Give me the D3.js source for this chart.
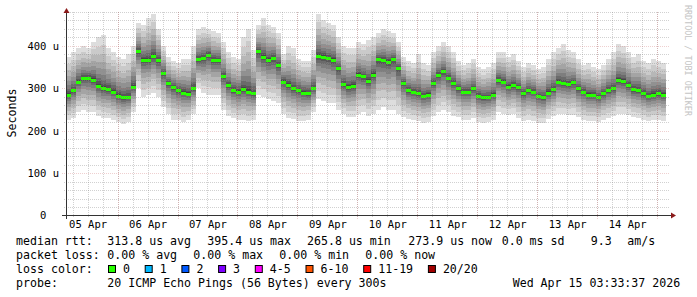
<!DOCTYPE html>
<html>
<head>
<meta charset="utf-8">
<script src="https://cdn.jsdelivr.net/npm/d3@7"></script>
<style>
body { margin: 0; background: #fff; }
text { font-family: "DejaVu Sans Mono", monospace; fill: #000; }
</style>
</head>
<body>
<div id="chart"></div>
<script>
const WIDTH = 697;
const HEIGHT = 297;

// 10 day window, 2 hour steps
const startTime = new Date(Date.UTC(2026, 3, 5, 3, 33, 37));
const endTime = new Date(Date.UTC(2026, 3, 15, 3, 33, 37));
const STEP_HOURS = 2;

// median rtt per step (microseconds)
const median = [
	285, 295, 316, 324, 324, 320, 306, 300, 298, 292, 282, 279, 279, 304, 388, 367, 367, 377, 367, 336,
	312, 303, 296, 290, 287, 300, 369, 371, 379, 367, 367, 328, 308, 296, 292, 298, 292, 288, 388, 375,
	367, 371, 355, 316, 308, 300, 295, 290, 288, 300, 377, 375, 371, 367, 347, 310, 303, 306, 332, 328,
	318, 332, 369, 367, 363, 369, 347, 312, 296, 292, 288, 282, 285, 312, 332, 340, 324, 312, 300, 292,
	292, 300, 282, 279, 279, 285, 320, 316, 304, 308, 303, 288, 296, 292, 282, 279, 290, 298, 316, 312,
	310, 314, 300, 292, 285, 285, 279, 288, 296, 300, 320, 318, 308, 298, 296, 288, 282, 285, 288, 285
];

// slowest ping per step
const pingMax = [
	375, 385, 395, 400, 395, 410, 420, 425, 395, 385, 375, 370, 380, 400, 455, 450, 465, 475, 440, 400,
	375, 365, 360, 370, 370, 400, 440, 445, 440, 435, 430, 410, 385, 375, 370, 420, 440, 390, 450, 465,
	450, 445, 430, 380, 400, 395, 370, 365, 365, 390, 475, 460, 455, 450, 420, 400, 395, 395, 410, 405,
	415, 420, 430, 440, 435, 430, 410, 375, 365, 360, 380, 360, 355, 385, 400, 410, 400, 385, 365, 355,
	360, 370, 350, 345, 350, 360, 385, 385, 375, 380, 365, 350, 360, 355, 345, 350, 370, 385, 395, 405,
	390, 385, 370, 355, 360, 350, 345, 355, 370, 385, 405, 400, 385, 375, 380, 365, 360, 370, 365, 360
];

// fastest ping per step
const pingMin = [
	225, 230, 245, 250, 245, 245, 235, 230, 230, 225, 220, 215, 220, 245, 300, 280, 285, 290, 280, 255,
	240, 225, 225, 220, 225, 240, 300, 290, 285, 285, 285, 250, 235, 230, 225, 225, 222, 225, 285, 280,
	275, 270, 265, 240, 230, 228, 222, 222, 225, 245, 275, 270, 265, 265, 250, 240, 232, 232, 240, 245,
	235, 240, 250, 255, 250, 250, 240, 232, 228, 225, 222, 218, 220, 235, 245, 250, 245, 235, 232, 225,
	225, 230, 220, 218, 220, 225, 245, 240, 238, 240, 230, 222, 225, 222, 218, 218, 228, 235, 240, 240,
	238, 238, 232, 225, 222, 222, 220, 225, 230, 235, 240, 240, 238, 232, 230, 225, 222, 225, 225, 222
];

const yTicks = [0, 100, 200, 300, 400];
const lossLabels = ['0', '1', '2', '3', '4-5', '6-10', '11-19', '20/20'];
const lossColors = ['#26ff00', '#00b8ff', '#0059ff', '#7e00ff', '#ff00ff', '#ff5500', '#ff0000', '#a10000'];

const legendRtt = ['313.8 us avg', '395.4 us max', '265.8 us min', '273.9 us now', '0.0 ms sd', '9.3', 'am/s'];
const legendLoss = ['0.00 % avg', '0.00 % max', '0.00 % min', '0.00 % now'];
const probeText = '20 ICMP Echo Pings (56 Bytes) every 300s';
const dateText = 'Wed Apr 15 03:33:37 2026';

const svg = d3
	.select('#chart')
	.append('svg')
	.attr('width', WIDTH)
	.attr('height', HEIGHT);

svg.append('rect').attr('width', WIDTH).attr('height', HEIGHT).attr('fill', '#fff');

const xScale = d3.scaleUtc().domain([startTime, endTime]).range([66.5, 666]);
const yScale = d3.scaleLinear().domain([0, 480]).range([215.5, 12]);

const stepTime = i => d3.utcHour.offset(startTime, i * STEP_HOURS);

// smoke: 10 stacked bands, outer ones lightest
const BANDS = 10;
const smoke = [];
median.forEach((m, i) => {
	for (let k = 0; k < BANDS; k++) {
		const f = Math.pow((BANDS - k) / BANDS, 2);
		smoke.push({
			i: i,
			lo: m - (m - pingMin[i]) * f,
			hi: m + (pingMax[i] - m) * f,
			grey: Math.floor((190 / BANDS) * (BANDS - k - 1)) + 50
		});
	}
});

svg.append('g')
	.attr('shape-rendering', 'crispEdges')
	.selectAll('rect')
	.data(smoke)
	.enter()
	.append('rect')
	.attr('x', d => Math.round(xScale(stepTime(d.i))))
	.attr('width', d => Math.round(xScale(stepTime(d.i + 1))) - Math.round(xScale(stepTime(d.i))))
	.attr('y', d => yScale(d.hi))
	.attr('height', d => yScale(d.lo) - yScale(d.hi))
	.attr('fill', d => d3.rgb(d.grey, d.grey, d.grey));

// median marks, coloured by loss (all zero loss here)
svg.append('g')
	.attr('shape-rendering', 'crispEdges')
	.selectAll('rect')
	.data(median)
	.enter()
	.append('rect')
	.attr('x', (d, i) => Math.round(xScale(stepTime(i))))
	.attr('width', (d, i) => Math.round(xScale(stepTime(i + 1))) - Math.round(xScale(stepTime(i))))
	.attr('y', d => Math.round(yScale(d)) - 1.5)
	.attr('height', 3)
	.attr('fill', lossColors[0]);

// grid
const grid = svg.append('g').attr('shape-rendering', 'crispEdges');
const hMinor = d3.range(20, 481, 20).filter(v => v % 100 !== 0);
const hMajor = yTicks.filter(v => v > 0);
const vMinor = d3.utcHour.every(6).range(startTime, endTime);
const vMajor = d3.utcDay.range(startTime, endTime);
const MINOR = 'rgba(140,140,140,0.4)';
const MAJOR = 'rgba(205,110,110,0.32)';

grid.selectAll('.hmin')
	.data(hMinor)
	.enter()
	.append('line')
	.attr('x1', 64).attr('x2', 670)
	.attr('y1', d => Math.round(yScale(d)) + 0.5)
	.attr('y2', d => Math.round(yScale(d)) + 0.5)
	.attr('stroke', MINOR)
	.attr('stroke-dasharray', '1,1');

grid.selectAll('.vmin')
	.data(vMinor)
	.enter()
	.append('line')
	.attr('x1', d => Math.round(xScale(d)) + 0.5)
	.attr('x2', d => Math.round(xScale(d)) + 0.5)
	.attr('y1', 12).attr('y2', 218)
	.attr('stroke', MINOR)
	.attr('stroke-dasharray', '1,1');

grid.selectAll('.hmaj')
	.data(hMajor)
	.enter()
	.append('line')
	.attr('x1', 62).attr('x2', 670)
	.attr('y1', d => Math.round(yScale(d)) + 0.5)
	.attr('y2', d => Math.round(yScale(d)) + 0.5)
	.attr('stroke', MAJOR)
	.attr('stroke-dasharray', '1,1');

grid.selectAll('.vmaj')
	.data(vMajor)
	.enter()
	.append('line')
	.attr('x1', d => Math.round(xScale(d)) + 0.5)
	.attr('x2', d => Math.round(xScale(d)) + 0.5)
	.attr('y1', 12).attr('y2', 219)
	.attr('stroke', MAJOR)
	.attr('stroke-dasharray', '1,1');

// axes lines + arrows
svg.append('line')
	.attr('x1', 62).attr('x2', 672)
	.attr('y1', 215.5).attr('y2', 215.5)
	.attr('stroke', '#333');
svg.append('line')
	.attr('x1', 66.5).attr('x2', 66.5)
	.attr('y1', 219).attr('y2', 11)
	.attr('stroke', '#333');
svg.append('path')
	.attr('d', 'M671,212.5 L676,215.5 L671,218.5 Z')
	.attr('fill', '#8b1a1a');
svg.append('path')
	.attr('d', 'M63.5,13 L66.5,8 L69.5,13 Z')
	.attr('fill', '#8b1a1a');

// axis labels
const noons = d3.utcDay
	.range(d3.utcDay.offset(startTime, -1), endTime)
	.map(d => d3.utcHour.offset(d, 12))
	.filter(d => d >= startTime && d <= endTime);

const xAxis = d3.axisBottom(xScale)
	.tickValues(noons)
	.tickFormat(d3.utcFormat('%d %b'))
	.tickSize(0);

const gx = svg.append('g')
	.attr('transform', 'translate(0, 215.5)')
	.call(xAxis);
gx.select('.domain').remove();
gx.selectAll('text')
	.attr('y', 12.5)
	.attr('dy', 0)
	.style('font-family', '"DejaVu Sans Mono", monospace')
	.style('font-size', '10.5px')
	.attr('fill', '#000');

const yAxis = d3.axisLeft(yScale)
	.tickValues(yTicks)
	.tickFormat(d => (d === 0 ? '0  ' : d + ' u'))
	.tickSize(0)
	.tickPadding(7);

const gy = svg.append('g')
	.attr('transform', 'translate(66, 0)')
	.call(yAxis);
gy.select('.domain').remove();
gy.selectAll('text')
	.style('font-family', '"DejaVu Sans Mono", monospace')
	.style('font-size', '10.5px')
	.style('white-space', 'pre')
	.attr('fill', '#000');

// y title
svg.append('text')
	.attr('transform', 'translate(15.5, 113) rotate(-90)')
	.attr('text-anchor', 'middle')
	.style('font-size', '11.6px')
	.text('Seconds');

// watermark
svg.append('text')
	.attr('transform', 'translate(685, 5) rotate(90)')
	.style('font-size', '8.4px')
	.style('fill', '#c4c4c4')
	.text('RRDTOOL / TOBI OETIKER');

// legend
const legend = svg.append('g').style('font-size', '11.6px').style('white-space', 'pre');
const CH = 7.0;

legend.append('text').attr('x', 16).attr('y', 245).text('median rtt:');
const rttX = [107.3, 207.3, 307, 408.3, 501.7, 590.7, 627.3];
legendRtt.forEach((t, i) => {
	legend.append('text').attr('x', rttX[i]).attr('y', 245).text(t);
});

legend.append('text').attr('x', 16).attr('y', 259).text('packet loss:');
legendLoss.forEach((t, i) => {
	legend.append('text').attr('x', 107.3 + i * (10 * CH + 16)).attr('y', 259).text(t);
});

legend.append('text').attr('x', 16).attr('y', 273).text('loss color:');
let bx = 108.5;
lossLabels.forEach((t, i) => {
	legend.append('rect')
		.attr('x', bx).attr('y', 265.5)
		.attr('width', 7).attr('height', 7)
		.attr('fill', lossColors[i])
		.attr('stroke', '#000')
		.attr('stroke-width', 1);
	legend.append('text').attr('x', bx + 14.5).attr('y', 273).text(t);
	bx = bx + 14.5 + t.length * CH + 15.2;
});

legend.append('text').attr('x', 16).attr('y', 287).text('probe:');
legend.append('text').attr('x', 107.3).attr('y', 287).text(probeText);
legend.append('text').attr('x', 512.7).attr('y', 287).text(dateText);
</script>
</body>
</html>
